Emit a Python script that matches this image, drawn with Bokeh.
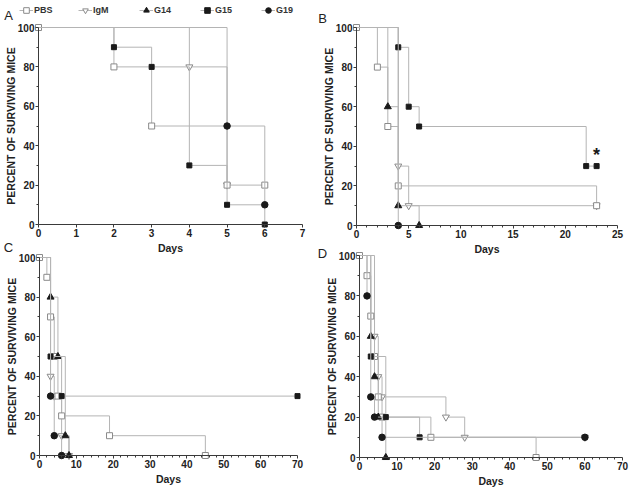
from bokeh.plotting import figure
from bokeh.models import FixedTicker, Label, Legend, LegendItem, ColumnDataSource, Range1d
from bokeh.layouts import column, row
from bokeh.embed import file_html
from bokeh.resources import INLINE
from bokeh.core.properties import value

# ---------------- data (Kaplan-Meier steps: day, percent surviving) ----------------
GROUPS = ["PBS", "IgM", "G14", "G15", "G19"]

# Panel A
a_pbs_days = [0, 2, 3, 5, 6];           a_pbs_surv = [100, 80, 50, 20, 20]
a_igm_days = [0, 4, 5];                 a_igm_surv = [100, 80, 20]
a_g14_days = [0];                       a_g14_surv = [100]
a_g15_days = [0, 2, 3, 4, 5, 6];        a_g15_surv = [100, 90, 80, 30, 10, 0]
a_g19_days = [0, 5, 6];                 a_g19_surv = [100, 50, 10]

# Panel B
b_pbs_days = [0, 2, 3, 4, 23];          b_pbs_surv = [100, 80, 50, 20, 10]
b_igm_days = [0, 4, 5, 23];             b_igm_surv = [100, 30, 10, 10]
b_g14_days = [0, 3, 4, 6];              b_g14_surv = [100, 60, 10, 0]
b_g15_days = [0, 4, 5, 6, 22, 23];      b_g15_surv = [100, 90, 60, 50, 30, 30]
b_g19_days = [0, 4];                    b_g19_surv = [100, 0]

# Panel C
c_pbs_days = [0, 2, 3, 4, 5, 6, 19, 45]; c_pbs_surv = [100, 90, 70, 50, 30, 20, 10, 0]
c_igm_days = [0, 3, 4, 6, 8];            c_igm_surv = [100, 40, 30, 10, 0]
c_g14_days = [0, 3, 5, 7, 8];            c_g14_surv = [100, 80, 50, 10, 0]
c_g15_days = [0, 3, 6, 70];              c_g15_surv = [100, 50, 30, 30]
c_g19_days = [0, 3, 4, 6];               c_g19_surv = [100, 30, 10, 0]

# Panel D
d_pbs_days = [0, 2, 3, 4, 5, 6, 19, 47];    d_pbs_surv = [100, 90, 70, 50, 30, 20, 10, 0]
d_igm_days = [0, 4, 5, 6, 23, 28, 60];      d_igm_surv = [100, 60, 40, 30, 20, 10, 10]
d_g14_days = [0, 3, 4, 5, 7];               d_g14_surv = [100, 60, 40, 20, 0]
d_g15_days = [0, 3, 7, 16];                 d_g15_surv = [100, 50, 20, 10]
d_g19_days = [0, 2, 3, 4, 6, 60];           d_g19_surv = [100, 80, 30, 20, 10, 10]

y_ticks = [0, 20, 40, 60, 80, 100]
y_minor = [10, 30, 50, 70, 90]
a_x_ticks = [0, 1, 2, 3, 4, 5, 6, 7]
b_x_ticks = [0, 5, 10, 15, 20, 25]
b_x_minor = [1, 2, 3, 4, 6, 7, 8, 9, 11, 12, 13, 14, 16, 17, 18, 19, 21, 22, 23, 24]
cd_x_ticks = [0, 10, 20, 30, 40, 50, 60, 70]
cd_x_minor = [2, 4, 6, 8, 12, 14, 16, 18, 22, 24, 26, 28, 32, 34, 36, 38,
              42, 44, 46, 48, 52, 54, 56, 58, 62, 64, 66, 68]

# ---------------- styles ----------------
FONT = "Liberation Sans"
AX = "#3a3a3a"
LINE = "#b4b4b4"
DARK = "#1a1a1a"
OPEN = "#8a8a8a"
MARK = {
    "PBS": dict(marker="square", size=6, fill_color="white", line_color=OPEN),
    "IgM": dict(marker="inverted_triangle", size=7, fill_color="white", line_color=OPEN),
    "G14": dict(marker="triangle", size=7, fill_color=DARK, line_color=DARK),
    "G15": dict(marker="square", size=5, fill_color=DARK, line_color=DARK),
    "G19": dict(marker="circle", size=6.5, fill_color=DARK, line_color=DARK),
}
DRAW_ORDER = ["IgM", "PBS", "G14", "G15", "G19"]


def span(d0, d1, q0, q1, length):
    s = (q1 - q0) / (d1 - d0)
    start = d0 - q0 / s
    return start, start + length / s


def make_panel(series, xmax, xticks, xminor, W, H, x0px, x1px, y100px, y0px, clear=False):
    xs, xe = span(0, xmax, x0px, x1px, W)
    ys, ye = span(0, 100, H - y0px, H - y100px, H)
    p = figure(width=W, height=H, x_range=Range1d(xs, xe), y_range=Range1d(ys, ye),
               output_backend="svg", toolbar_location=None, title=None,
               min_border=0, outline_line_color=None)
    p.min_border_left = p.min_border_right = p.min_border_top = p.min_border_bottom = 0
    p.grid.visible = False
    if clear:
        p.background_fill_color = None
        p.border_fill_color = None
    else:
        p.background_fill_color = "white"
        p.border_fill_color = "white"

    rends = {}
    for g in DRAW_ORDER:
        days, surv = series[g]
        src = ColumnDataSource(dict(x=days, y=surv))
        st = p.step("x", "y", source=src, mode="after", line_color=LINE, line_width=1)
        if g == "PBS":
            msrc = ColumnDataSource(dict(x=days, y=surv))
        else:
            msrc = ColumnDataSource(dict(x=days[1:], y=surv[1:]))
        p.scatter("x", "y", source=msrc, line_width=1, **MARK[g])
        # hidden copy carrying the full series, used as the legend swatch
        lg = p.scatter("x", "y", source=src, line_width=1, visible=False, **MARK[g])
        rends[g] = (st, lg)

    for ax in (p.xaxis[0], p.yaxis[0]):
        ax.fixed_location = 0
        ax.axis_line_color = AX
        ax.major_tick_line_color = AX
        ax.minor_tick_line_color = AX
        ax.major_tick_in = 0
        ax.major_tick_out = 3
        ax.minor_tick_in = 0
        ax.minor_tick_out = 2
        ax.major_label_text_font = FONT
        ax.major_label_text_font_size = "10px"
        ax.major_label_text_font_style = "bold"
        ax.major_label_text_color = "#222222"
        ax.major_label_standoff = 1
        ax.axis_label_text_font = FONT
        ax.axis_label_text_font_size = "10.5px"
        ax.axis_label_text_font_style = "bold"
        ax.axis_label_text_color = "#222222"
    p.xaxis[0].axis_label_standoff = 2
    p.yaxis[0].axis_label_standoff = -2
    p.xaxis[0].bounds = (0, xmax)
    p.yaxis[0].bounds = (0, 100)
    p.xaxis[0].ticker = FixedTicker(ticks=xticks, minor_ticks=xminor)
    p.yaxis[0].ticker = FixedTicker(ticks=y_ticks, minor_ticks=y_minor)
    p.xaxis[0].axis_label = "Days"
    p.yaxis[0].axis_label = "PERCENT OF SURVIVING MICE"
    return p, rends


def letter(p, text, x, y):
    p.add_layout(Label(x=x, y=y, x_units="screen", y_units="screen", text=text,
                       text_font=FONT, text_font_size="13px", text_color="#222222",
                       text_align="center", text_baseline="middle"))


def group_series(pbs, igm, g14, g15, g19):
    return dict(zip(GROUPS, [pbs, igm, g14, g15, g19]))


sa = group_series((a_pbs_days, a_pbs_surv), (a_igm_days, a_igm_surv), (a_g14_days, a_g14_surv),
                  (a_g15_days, a_g15_surv), (a_g19_days, a_g19_surv))
sb = group_series((b_pbs_days, b_pbs_surv), (b_igm_days, b_igm_surv), (b_g14_days, b_g14_surv),
                  (b_g15_days, b_g15_surv), (b_g19_days, b_g19_surv))
sc_ = group_series((c_pbs_days, c_pbs_surv), (c_igm_days, c_igm_surv), (c_g14_days, c_g14_surv),
                   (c_g15_days, c_g15_surv), (c_g19_days, c_g19_surv))
sd = group_series((d_pbs_days, d_pbs_surv), (d_igm_days, d_igm_surv), (d_g14_days, d_g14_surv),
                  (d_g15_days, d_g15_surv), (d_g19_days, d_g19_surv))

W = 317
TOP_H = 262          # top row canvases, partly overlapped by the transparent bottom row
OVERLAP = 14
BOT_H = 492 - TOP_H + OVERLAP
BOT_Y0 = TOP_H - OVERLAP   # page y where the bottom row starts

pa, ra = make_panel(sa, 7, a_x_ticks, [], W, TOP_H, 38, 302, 27, 224)
pb, rb = make_panel(sb, 25, b_x_ticks, b_x_minor, W, TOP_H, 39, 300, 27, 225)
pc, rc = make_panel(sc_, 70, cd_x_ticks, cd_x_minor, W, BOT_H, 39, 297,
                    257 - BOT_Y0, 455 - BOT_Y0, clear=True)
pd, rd = make_panel(sd, 70, cd_x_ticks, cd_x_minor, W, BOT_H, 42, 305,
                    255 - BOT_Y0, 457 - BOT_Y0, clear=True)

# significance mark on G15 in panel B
pb.text(x=[b_g15_days[-1]], y=[b_g15_surv[-1]], text=["*"], y_offset=-11,
        text_font=value(FONT), text_font_size="18px", text_font_style="bold",
        text_color=DARK, text_align="center", text_baseline="middle")

# panel letters (screen units measured from the bottom-left of each canvas)
letter(pa, "A", 8, TOP_H - 15)
letter(pa, "C", 8, TOP_H - 247)
letter(pb, "B", 5, TOP_H - 18)
letter(pb, "D", 5, TOP_H - 253)

# legend (one item each, placed along the top of panel A)
legend_cx = {"PBS": 26, "IgM": 85, "G14": 146, "G15": 207, "G19": 268}
for g in GROUPS:
    leg = Legend(items=[LegendItem(label=g, renderers=list(ra[g]))],
                 location=(legend_cx[g] - 7, TOP_H - 17), orientation="horizontal",
                 glyph_width=14, glyph_height=14, label_height=14, label_width=0,
                 label_standoff=1, padding=0, margin=0, spacing=0,
                 background_fill_alpha=0, border_line_color=None,
                 label_text_font=FONT, label_text_font_size="9px",
                 label_text_font_style="bold", label_text_color="#333333")
    pa.add_layout(leg)

top = row(pa, pb)
bottom = row(pc, pd)
bottom.styles = {"margin-top": f"-{OVERLAP}px"}
root = column(top, bottom)

open("out.html", "w").write(file_html(root, INLINE))
